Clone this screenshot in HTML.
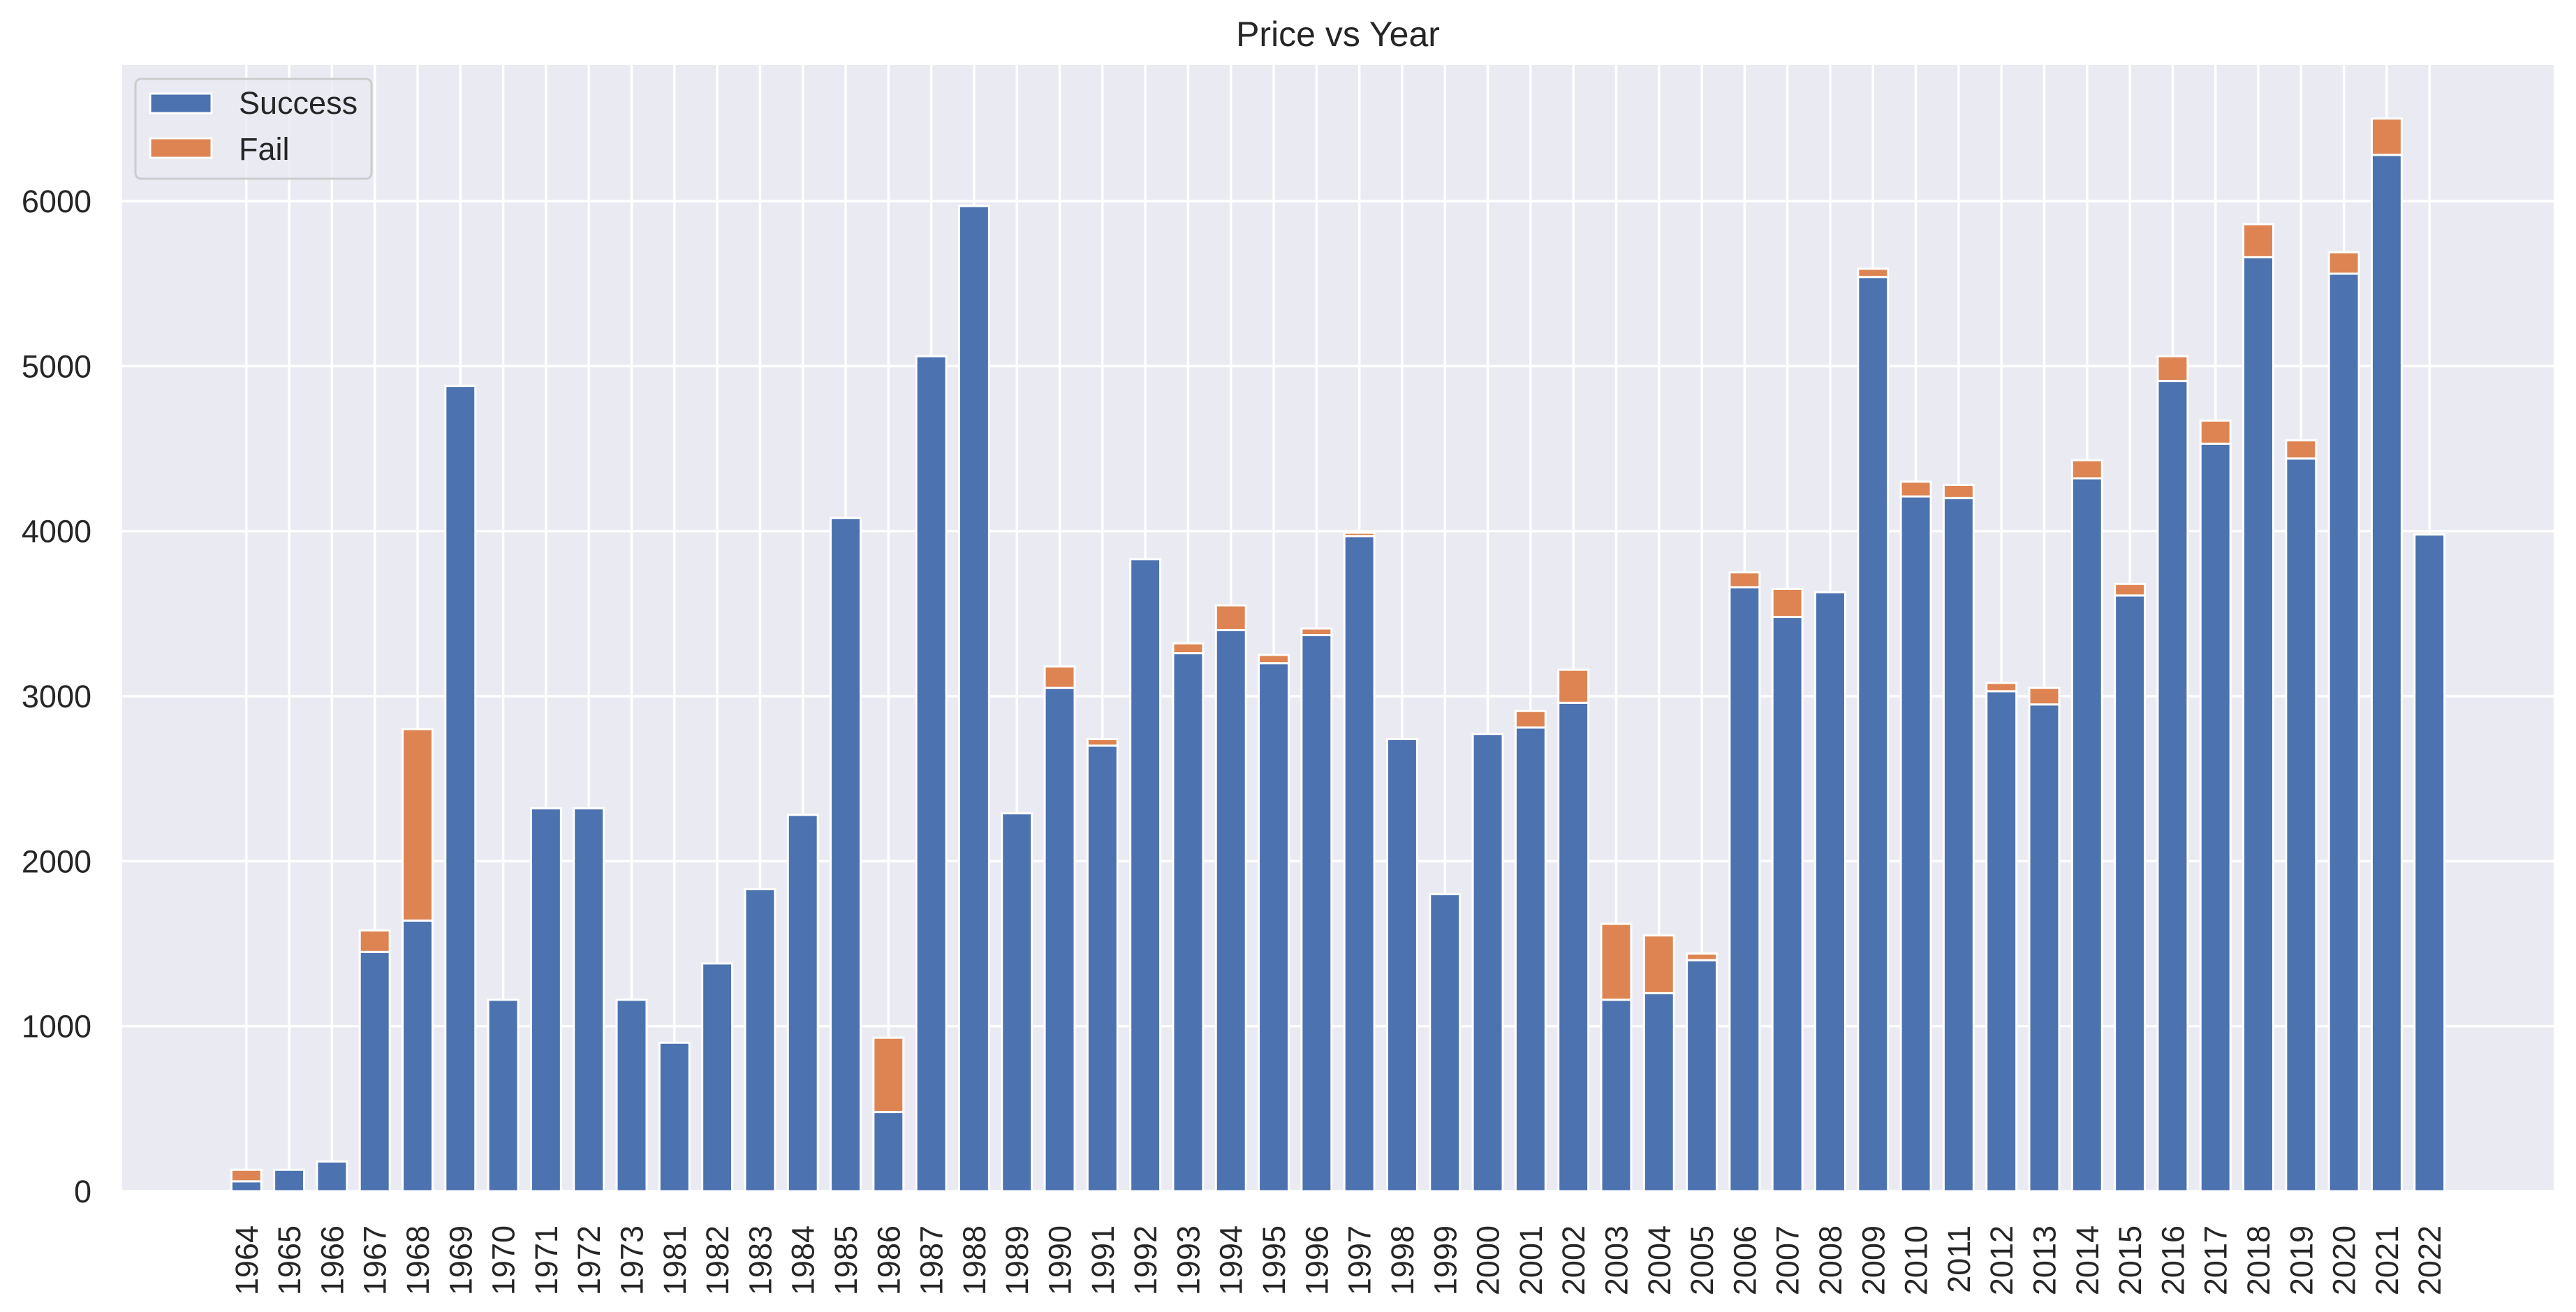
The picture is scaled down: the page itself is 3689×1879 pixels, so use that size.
<!DOCTYPE html>
<html><head><meta charset="utf-8"><style>
html,body{margin:0;padding:0;background:#fff;}
svg{display:block;font-family:"Liberation Sans",Arial,sans-serif;}
</style></head><body>
<svg id="chart" width="3689" height="1879" viewBox="0 0 3689 1879" xmlns="http://www.w3.org/2000/svg">
<rect x="175" y="93" width="3482" height="1613" fill="#eaeaf2"/>
<g id="grid"></g>
<g id="bars"></g>
<g id="yticks"></g>
<g id="xticks"></g>
<text x="1916" y="66" font-size="50" text-anchor="middle" fill="#262626">Price vs Year</text>
<g>
<rect x="194" y="113" width="338" height="143" rx="8" fill="#eaeaf2" fill-opacity="0.8" stroke="#cccccc" stroke-width="3"/>
<g>
<rect x="215" y="134" width="88" height="28" fill="#4c72b0" stroke="#fff" stroke-width="3"/>
<text x="342" y="163" font-size="45" fill="#262626">Success</text>
</g>
<g>
<rect x="215" y="198" width="88" height="28" fill="#dd8452" stroke="#fff" stroke-width="3"/>
<text x="342" y="229" font-size="45" fill="#262626">Fail</text>
</g>
</g>
</svg>
<script>
const years = ["1964","1965","1966","1967","1968","1969","1970","1971","1972","1973","1981","1982","1983","1984","1985","1986","1987","1988","1989","1990","1991","1992","1993","1994","1995","1996","1997","1998","1999","2000","2001","2002","2003","2004","2005","2006","2007","2008","2009","2010","2011","2012","2013","2014","2015","2016","2017","2018","2019","2020","2021","2022"];
const success = [60,130,180,1450,1640,4880,1160,2320,2320,1160,900,1380,1830,2280,4080,480,5060,5970,2290,3050,2700,3830,3260,3400,3200,3370,3970,2740,1800,2770,2810,2960,1160,1200,1400,3660,3480,3630,5540,4210,4200,3030,2950,4320,3610,4910,4530,5660,4440,5560,6280,3980];
const fail = [70,0,0,130,1160,0,0,0,0,0,0,0,0,0,0,450,0,0,0,130,40,0,60,150,50,40,20,0,0,0,100,200,460,350,40,90,170,0,50,90,80,50,100,110,70,150,140,200,110,130,220,0];
const yTicks = [0,1000,2000,3000,4000,5000,6000];

const NS = "http://www.w3.org/2000/svg";
const L = 175, R = 3657, T = 93, B = 1706;
const yMax = 6825;
const xMin = -2.9, xMax = years.length - 1 + 2.9;
function X(i){ return L + (i - xMin) / (xMax - xMin) * (R - L); }
function Y(v){ return B - v / yMax * (B - T); }
const step = X(1) - X(0);
const bw = step * 0.7;
function mk(tag, attrs, parent){
  const e = document.createElementNS(NS, tag);
  for (const k in attrs) e.setAttribute(k, attrs[k]);
  parent.appendChild(e);
  return e;
}
const grid = document.getElementById('grid');
const bars = document.getElementById('bars');
const yt = document.getElementById('yticks');
const xt = document.getElementById('xticks');

yTicks.forEach(v => {
  const l = mk('line', {x1:L, x2:R, y1:Y(v), y2:Y(v), stroke:'#fff', 'stroke-width':3.5}, grid);
  
  
  const t = mk('text', {x:131, y:Y(v)+16, 'font-size':45, 'text-anchor':'end', fill:'#262626'}, yt);
  t.textContent = v;
  
  
});
years.forEach((yr, i) => {
  const cx = X(i);
  const l = mk('line', {x1:cx, x2:cx, y1:T, y2:B, stroke:'#fff', 'stroke-width':3.5}, grid);
  
  
  const s = mk('rect', {x:cx-bw/2, y:Y(success[i]), width:bw, height:Y(0)-Y(success[i]), fill:'#4c72b0', stroke:'#fff', 'stroke-width':3}, bars);
  
  
  if (fail[i] > 0) {
    const f = mk('rect', {x:cx-bw/2, y:Y(success[i]+fail[i]), width:bw, height:Y(success[i])-Y(success[i]+fail[i]), fill:'#dd8452', stroke:'#fff', 'stroke-width':3}, bars);
    
    
  }
  const t = mk('text', {x:0, y:0, 'font-size':45, 'text-anchor':'end', fill:'#262626', transform:'translate(' + (cx+16) + ',1755) rotate(-90)'}, xt);
  t.textContent = yr;
  
  
});
</script>
</body></html>
